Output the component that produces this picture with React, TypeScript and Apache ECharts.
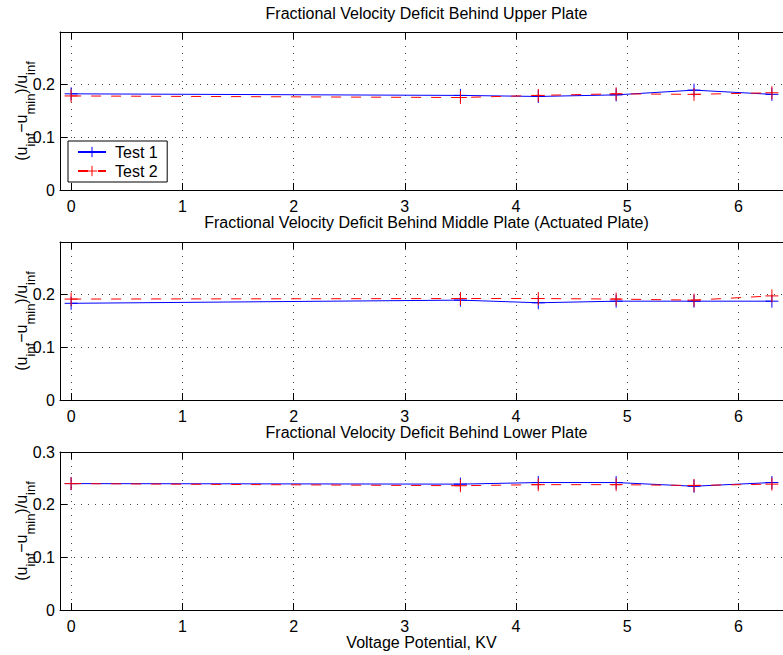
import React, { useEffect, useRef } from "react";
import * as echarts from "echarts";

// ---- data ----
const voltage = [0, 3.5, 4.2, 4.9, 5.6, 6.3];
const upperTest1 = [0.182, 0.179, 0.177, 0.18, 0.189, 0.181];
const upperTest2 = [0.178, 0.175, 0.179, 0.182, 0.181, 0.184];
const middleTest1 = [0.183, 0.189, 0.184, 0.187, 0.187, 0.187];
const middleTest2 = [0.191, 0.192, 0.192, 0.191, 0.189, 0.197];
const lowerTest1 = [0.24, 0.239, 0.242, 0.242, 0.235, 0.242];
const lowerTest2 = [0.24, 0.236, 0.238, 0.238, 0.2365, 0.239];
const seriesNames = ["Test 1", "Test 2"];
const titles = [
  "Fractional Velocity Deficit Behind Upper Plate",
  "Fractional Velocity Deficit Behind Middle Plate (Actuated Plate)",
  "Fractional Velocity Deficit Behind Lower Plate",
];
const xTicks = [0, 1, 2, 3, 4, 5, 6];
const yTicksPanels = [
  [0, 0.1, 0.2],
  [0, 0.1, 0.2],
  [0, 0.1, 0.2, 0.3],
];
const yMaxPanels = [0.299, 0.299, 0.3];
const xLabel = "Voltage Potential, KV";

const FONT = "Liberation Sans";
const FS = 16;
const BLUE = "#0000ff";
const RED = "#ff0000";
const PLUS = "path://M0,5L10,5M5,0L5,10";

export default function App() {
  const ref = useRef<HTMLDivElement>(null);
  useEffect(() => {
    if (!ref.current) return;
    const chart = echarts.init(ref.current, undefined, { renderer: "svg" });
    const gridTops = [32, 242, 452];
    const gridH = 158;
    const titleY = [13, 222, 432];
    const panels = [
      [upperTest1, upperTest2],
      [middleTest1, middleTest2],
      [lowerTest1, lowerTest2],
    ];
    const grid = gridTops.map((t) => ({ left: 60, top: t, width: 733, height: gridH }));
    const splitStyle = { show: true, lineStyle: { color: "#444", type: [1, 6], width: 1 } };
    const xAxis: any[] = [];
    gridTops.forEach((_, i) => {
      xAxis.push({
        gridIndex: i,
        type: "value",
        min: -0.1,
        max: 6.4,
        position: "bottom",
        axisLine: { show: true, onZero: false, lineStyle: { color: "#000", width: 1 } },
        axisTick: { show: true, inside: true, length: 7, customValues: xTicks, lineStyle: { color: "#000" } },
        axisLabel: {
          customValues: xTicks,
          margin: 8,
          color: "#000",
          fontFamily: FONT,
          fontSize: FS,
          formatter: (v: number) => String(v),
        },
        splitLine: splitStyle,
        name: i === 2 ? xLabel : "",
        nameLocation: "middle",
        nameGap: 24,
        nameMoveOverlap: false,
        nameTextStyle: { color: "#000", fontFamily: FONT, fontSize: FS },
      });
      xAxis.push({
        gridIndex: i,
        type: "value",
        min: -0.1,
        max: 6.4,
        position: "top",
        axisLine: { show: true, onZero: false, lineStyle: { color: "#000", width: 1 } },
        axisTick: { show: true, inside: true, length: 7, customValues: xTicks, lineStyle: { color: "#000" } },
        axisLabel: { show: false },
        splitLine: { show: false },
      });
    });
    const yAxis = gridTops.map((_, i) => ({
      gridIndex: i,
      type: "value",
      min: 0,
      max: yMaxPanels[i],
      axisLine: { show: true, onZero: false, lineStyle: { color: "#000", width: 1 } },
      axisTick: { show: true, inside: true, length: 7, customValues: yTicksPanels[i], lineStyle: { color: "#000" } },
      axisLabel: {
        customValues: yTicksPanels[i],
        margin: 5,
        color: "#000",
        fontFamily: FONT,
        fontSize: FS,
        formatter: (v: number) => (v === 0 ? "0" : v.toFixed(1)),
      },
      splitLine: splitStyle,
      name: "{m|(u}{s|inf}{m|\u2212u}{s|min}{m|)/u}{s|inf}",
      nameLocation: "middle",
      nameRotate: 90,
      nameGap: 23.5,
      nameMoveOverlap: false,
      nameTextStyle: {
        color: "#000",
        fontFamily: FONT,
        fontSize: FS,
        rich: {
          m: { fontFamily: FONT, fontSize: FS, color: "#000" },
          s: { fontFamily: FONT, fontSize: 13, color: "#000", padding: [18, 0, 0, 0] },
        },
      },
    }));
    const series: any[] = [];
    panels.forEach((pair, i) => {
      pair.forEach((vals, k) => {
        const c = k === 0 ? BLUE : RED;
        series.push({
          type: "line",
          name: seriesNames[k],
          xAxisIndex: 2 * i,
          yAxisIndex: i,
          data: voltage.map((x, j) => [x, vals[j]]),
          color: c,
          symbol: PLUS,
          symbolSize: 13,
          showAllSymbol: true,
          itemStyle: { color: c, borderColor: c, borderWidth: 1 },
          lineStyle: { color: c, width: 1, type: k === 0 ? "solid" : [10, 10] },
          emphasis: { disabled: true },
          silent: true,
          clip: false,
        });
      });
    });
    chart.setOption({
      animation: false,
      backgroundColor: "#fff",
      grid,
      xAxis,
      yAxis,
      series,
      legend: {
        data: seriesNames,
        orient: "vertical",
        left: 68,
        top: 141,
        padding: [2.5, 9.5, 2.5, 9],
        itemWidth: 28,
        itemHeight: 13,
        itemGap: 2,
        backgroundColor: "#fff",
        borderColor: "#000",
        borderWidth: 1,
        borderRadius: 0,
        itemStyle: { borderWidth: 1 },
        textStyle: { fontFamily: FONT, fontSize: FS, color: "#000", lineHeight: 17, padding: [0, 0, 0, 4] },
        selectedMode: false,
      },
      graphic: titles.map((t, i) => ({
        type: "text",
        x: 426.5,
        y: titleY[i],
        style: {
          text: t,
          fontFamily: FONT,
          fontSize: FS,
          fill: "#000",
          align: "center",
          verticalAlign: "middle",
        },
      })),
    });
    return () => chart.dispose();
  }, []);
  return (
    <div
      ref={ref}
      style={{ position: "absolute", left: 0, top: 0, width: 783, height: 655, overflow: "hidden" }}
    />
  );
}
